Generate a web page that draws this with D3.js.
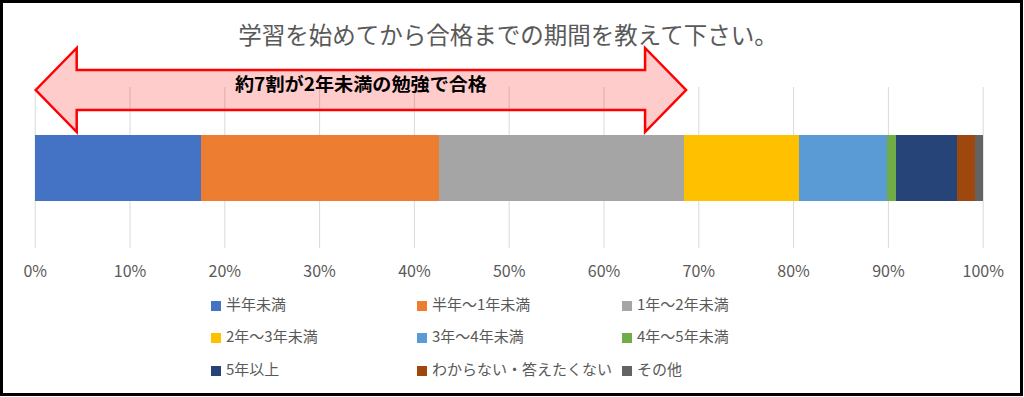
<html>
<head>
<meta charset="utf-8">
<style type="text/css">
	body{ margin:0; background:#fff; }
	svg{ display:block; font-family:"Noto Sans CJK JP", "Noto Sans", sans-serif; }
</style>
<script src="https://cdn.jsdelivr.net/npm/d3@7/dist/d3.min.js"></script>
</head>
<body>
<svg id="svg" width="1024" height="397"></svg>
<script type="text/javascript">

	// data (share of answers, %)
	var categories = ["半年未満", "半年～1年未満", "1年～2年未満", "2年～3年未満", "3年～4年未満", "4年～5年未満", "5年以上", "わからない・答えたくない", "その他"];
	var shares = [17.5, 25.1, 25.9, 12.1, 9.3, 1.0, 6.4, 1.9, 0.8];
	var colors = ["#4472C4", "#ED7D31", "#A5A5A5", "#FFC000", "#5B9BD5", "#70AD47", "#264478", "#9E480E", "#636363"];
	var tickValues = [0, 10, 20, 30, 40, 50, 60, 70, 80, 90, 100];
	var title = "学習を始めてから合格までの期間を教えて下さい。";
	var note = "約7割が2年未満の勉強で合格";

	var svg = d3.select("#svg");
	var W = 1024, H = 397;

	svg.append("rect").attr("x",0).attr("y",0).attr("width",W).attr("height",H).style("fill","#fff");

	var x = d3.scaleLinear().domain([0,100]).range([34.7, 982.7]);
	var gridTop = 87, gridBottom = 248, barTop = 135, barBottom = 201;

	// stack
	var stacked = [], acc = 0;
	for(var i = 0; i<shares.length; i++){
		stacked.push({name:categories[i], color:colors[i], x0:acc, x1:acc+shares[i]});
		acc += shares[i];
	}

	// axis + gridlines
	var axis = d3.axisBottom(x)
		.tickValues(tickValues)
		.tickSize(-(gridBottom-gridTop))
		.tickPadding(18)
		.tickFormat(function(d){ return d + "%"; });

	var gAxis = svg.append("g").attr("transform","translate(0,"+gridBottom+")").call(axis);
	gAxis.select(".domain").remove();
	gAxis.selectAll(".tick line").style("stroke","#d9d9d9").style("stroke-width",1);
	gAxis.selectAll(".tick text")
		.style("fill","#595959")
		.style("font-size","16px")
		.style("font-family","'Noto Sans CJK JP', sans-serif");

	// bar segments
	svg.append("g").selectAll("rect").data(stacked).enter().append("rect")
		.attr("x", function(d){ return Math.round(x(d.x0)); })
		.attr("y", barTop)
		.attr("width", function(d){ return Math.round(x(d.x1)) - Math.round(x(d.x0)); })
		.attr("height", barBottom - barTop)
		.attr("shape-rendering","crispEdges")
		.style("fill", function(d){ return d.color; });

	// title
	svg.append("text")
		.attr("x", 508).attr("y", 44)
		.attr("text-anchor","middle")
		.style("font-size","23.5px")
		.style("fill","#595959")
		.text(title);

	// double arrow spanning the first three groups (~7割)
	var ax0 = x(0) + 1, ax1 = x(stacked[2].x1) + 2, cy = 90;
	var headW = 41, headH = 42, shaftH = 20;
	var arrow = [
		[ax0, cy],
		[ax0+headW, cy-headH],
		[ax0+headW, cy-shaftH],
		[ax1-headW, cy-shaftH],
		[ax1-headW, cy-headH],
		[ax1, cy],
		[ax1-headW, cy+headH],
		[ax1-headW, cy+shaftH],
		[ax0+headW, cy+shaftH],
		[ax0+headW, cy+headH]
	];
	svg.append("path")
		.attr("d", "M" + arrow.join("L") + "Z")
		.style("fill","rgba(255,0,0,0.2)")
		.style("stroke","#FF0000")
		.style("stroke-width",2.5)
		.style("stroke-linejoin","miter");

	svg.append("text")
		.attr("x", 235).attr("y", 91)
		.attr("textLength", 252).attr("lengthAdjust","spacingAndGlyphs")
		.style("font-size","18px")
		.style("font-weight","bold")
		.style("fill","#000")
		.text(note);

	// legend
	var colX = [211, 417, 622], rowY = [306, 338, 371];
	var leg = svg.append("g").selectAll("g").data(stacked).enter().append("g")
		.attr("transform", function(d,i){ return "translate("+colX[i%3]+","+rowY[Math.floor(i/3)]+")"; });
	leg.append("rect").attr("x",0).attr("y",-5).attr("width",10).attr("height",10)
		.style("fill", function(d){ return d.color; });
	leg.append("text").attr("x",15).attr("y",4)
		.style("font-size","15px")
		.style("fill","#595959")
		.text(function(d){ return d.name; });

	// outer frame
	svg.append("rect").attr("x",1.5).attr("y",1.5).attr("width",W-4).attr("height",H-4)
		.style("fill","none").style("stroke","#000").style("stroke-width",3);

</script>
</body>
</html>
